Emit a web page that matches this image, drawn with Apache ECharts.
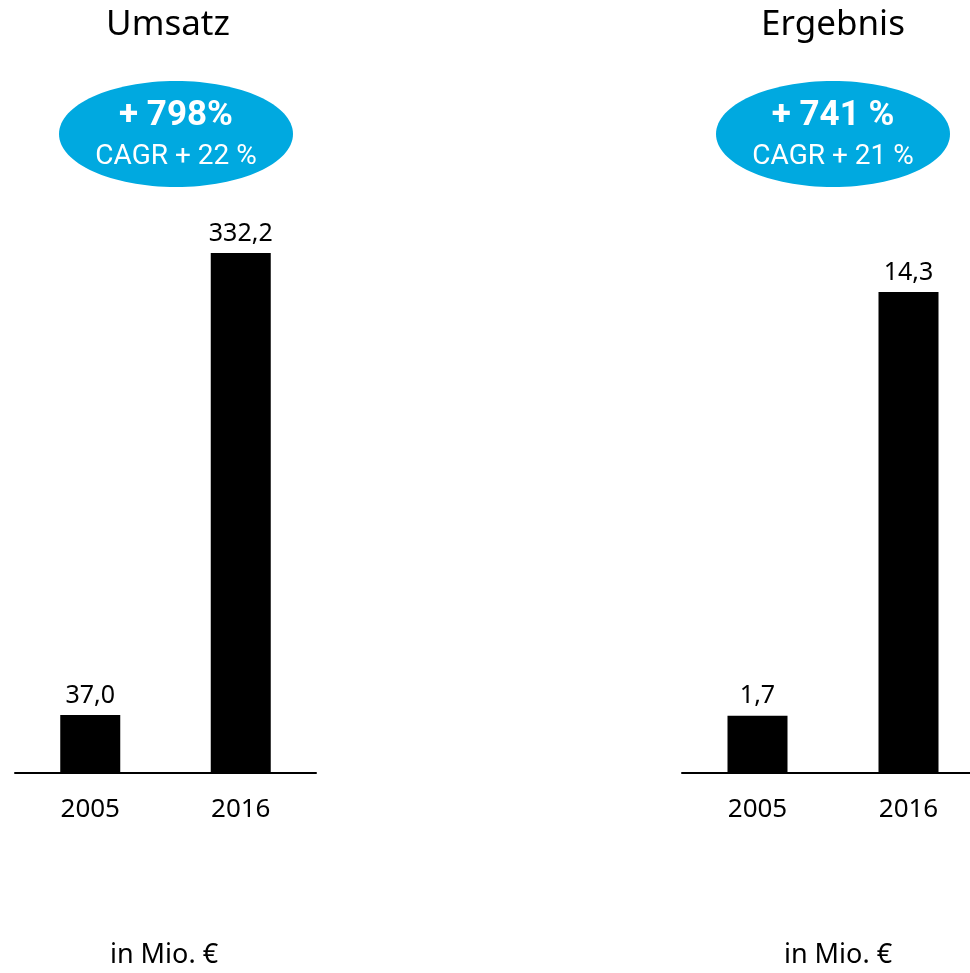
<!DOCTYPE html>
<html>
<head>
<meta charset="utf-8">
<script src="https://cdn.jsdelivr.net/npm/echarts@6/dist/echarts.min.js"></script>
<style>
  html, body { margin: 0; padding: 0; background: #fff; }
  #chart { width: 970px; height: 973px; }
</style>
</head>
<body>
<div id="chart"></div>
<script>
    var years = ['2005', '2016'];
    var umsatz = [37.0, 332.2];
    var ergebnis = [1.7, 14.3];
    var titles = ['Umsatz', 'Ergebnis'];
    var wachstum = ['+ 798%', '+ 741 %'];
    var cagr = ['CAGR + 22 %', 'CAGR + 21 %'];
    var einheit = 'in Mio. €';

    var blau = '#00a9e0';
    var schrift = '"Noto Sans", "Open Sans", sans-serif';

    function komma(p) {
        return p.value.toFixed(1).replace('.', ',');
    }

    var myChart = echarts.init(document.getElementById('chart'));

    function xAchse(i) {
        return {
            type: 'category',
            gridIndex: i,
            data: years,
            axisTick: { show: false },
            axisLine: { lineStyle: { color: '#000', width: 2 } },
            axisLabel: { color: '#000', fontSize: 26, fontFamily: schrift, margin: 24 }
        };
    }
    function yAchse(i, max) {
        return {
            type: 'value',
            gridIndex: i,
            min: 0,
            max: max,
            show: false,
            splitLine: { show: false }
        };
    }
    function balken(i, data) {
        return {
            type: 'bar',
            xAxisIndex: i,
            yAxisIndex: i,
            data: data,
            barWidth: 60,
            itemStyle: { color: '#000' },
            label: {
                show: true,
                position: 'top',
                distance: 7,
                color: '#000',
                fontSize: 25,
                fontFamily: schrift,
                formatter: komma
            }
        };
    }

    var option = {
        animation: false,
        grid: [
            { left: 15, top: 253, right: 654, bottom: 200, outerBoundsMode: 'none' },
            { left: 682, top: 292, right: -14, bottom: 200, outerBoundsMode: 'none' }
        ],
        xAxis: [xAchse(0), xAchse(1)],
        yAxis: [yAchse(0, umsatz[1]), yAchse(1, ergebnis[1])],
        series: [balken(0, umsatz), balken(1, ergebnis)]
    };

    var mitten = [168, 833];
    var ovale = [176, 833];
    var unten = [164, 838];
    var g = [];
    for (var i = 0; i < 2; i++) {
        g.push({
            type: 'text', x: mitten[i], y: 25,
            style: { text: titles[i], fill: '#000', font: '35px ' + schrift, align: 'center', verticalAlign: 'middle' }
        });
        g.push({
            type: 'ellipse',
            shape: { cx: ovale[i], cy: 134, rx: 117, ry: 53 },
            style: { fill: blau }
        });
        g.push({
            type: 'text', x: ovale[i], y: 116,
            style: { text: wachstum[i], fill: '#fff', font: 'bold 35px Roboto, sans-serif', align: 'center', verticalAlign: 'middle' }
        });
        g.push({
            type: 'text', x: ovale[i], y: 157,
            style: { text: cagr[i], fill: '#fff', font: '28px Roboto, sans-serif', align: 'center', verticalAlign: 'middle' }
        });
        g.push({
            type: 'text', x: unten[i], y: 955,
            style: { text: einheit, fill: '#000', font: '27px ' + schrift, align: 'center', verticalAlign: 'middle' }
        });
    }
    option.graphic = g;

    myChart.setOption(option);
</script>
</body>
</html>
